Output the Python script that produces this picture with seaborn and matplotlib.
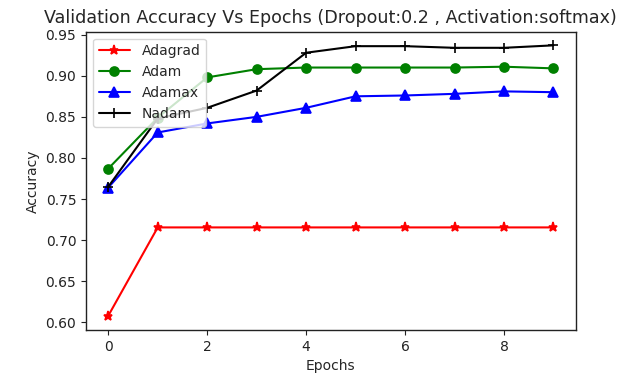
import matplotlib
matplotlib.use("Agg")
import matplotlib.pyplot as plt
import seaborn as sns
import numpy as np

epochs = list(range(10))
adagrad = [0.608, 0.7155, 0.7155, 0.7155, 0.7155, 0.7155, 0.7155, 0.7155, 0.7155, 0.7155]
adam = [0.787, 0.849, 0.898, 0.908, 0.910, 0.910, 0.910, 0.910, 0.911, 0.909]
adamax = [0.764, 0.831, 0.842, 0.850, 0.861, 0.875, 0.876, 0.878, 0.881, 0.880]
nadam = [0.765, 0.848, 0.861, 0.882, 0.928, 0.936, 0.936, 0.934, 0.934, 0.937]

names = ["Adagrad", "Adam", "Adamax", "Nadam"]
series = [adagrad, adam, adamax, nadam]
colors = ["red", "green", "blue", "black"]
markers = ["*", "o", "^", "+"]

sns.set_style("white")
plt.rcParams['font.family'] = ['DejaVu Sans']

fig = plt.figure(figsize=(6.31, 3.74), dpi=100)
ax = fig.add_axes([86/631, 1-330/374, (575.7-86)/631, (330-31.7)/374])

for name, vals, c, m in zip(names, series, colors, markers):
    sns.lineplot(x=epochs, y=vals, ax=ax, color=c, marker=m, label=name,
                 markersize=6.5, mec=c, mfc=c, mew=1.2, linewidth=1.5)

ax.set_title("Validation Accuracy Vs Epochs (Dropout:0.2 , Activation:softmax)", fontsize=12.6)
ax.set_xlabel("Epochs", fontsize=10)
ax.set_ylabel("Accuracy", fontsize=10)
ax.set_xticks([0, 2, 4, 6, 8])
yt = [0.60, 0.65, 0.70, 0.75, 0.80, 0.85, 0.90, 0.95]
ax.set_yticks(yt)
ax.set_yticklabels([f"{v:.2f}" for v in yt])
ax.set_ylim(0.5907, 0.9536)
ax.set_xlim(-0.45, 9.45)
ax.tick_params(axis='both', which='both', length=3.5, width=0.8, direction='out',
               bottom=True, left=True, labelsize=10, colors='#222222')
for s in ax.spines.values():
    s.set_color('#222222')
    s.set_linewidth(1.0)
ax.legend(loc='upper left', fontsize=10, frameon=True, handlelength=2.3)
fig.savefig("out.png", dpi=100)
